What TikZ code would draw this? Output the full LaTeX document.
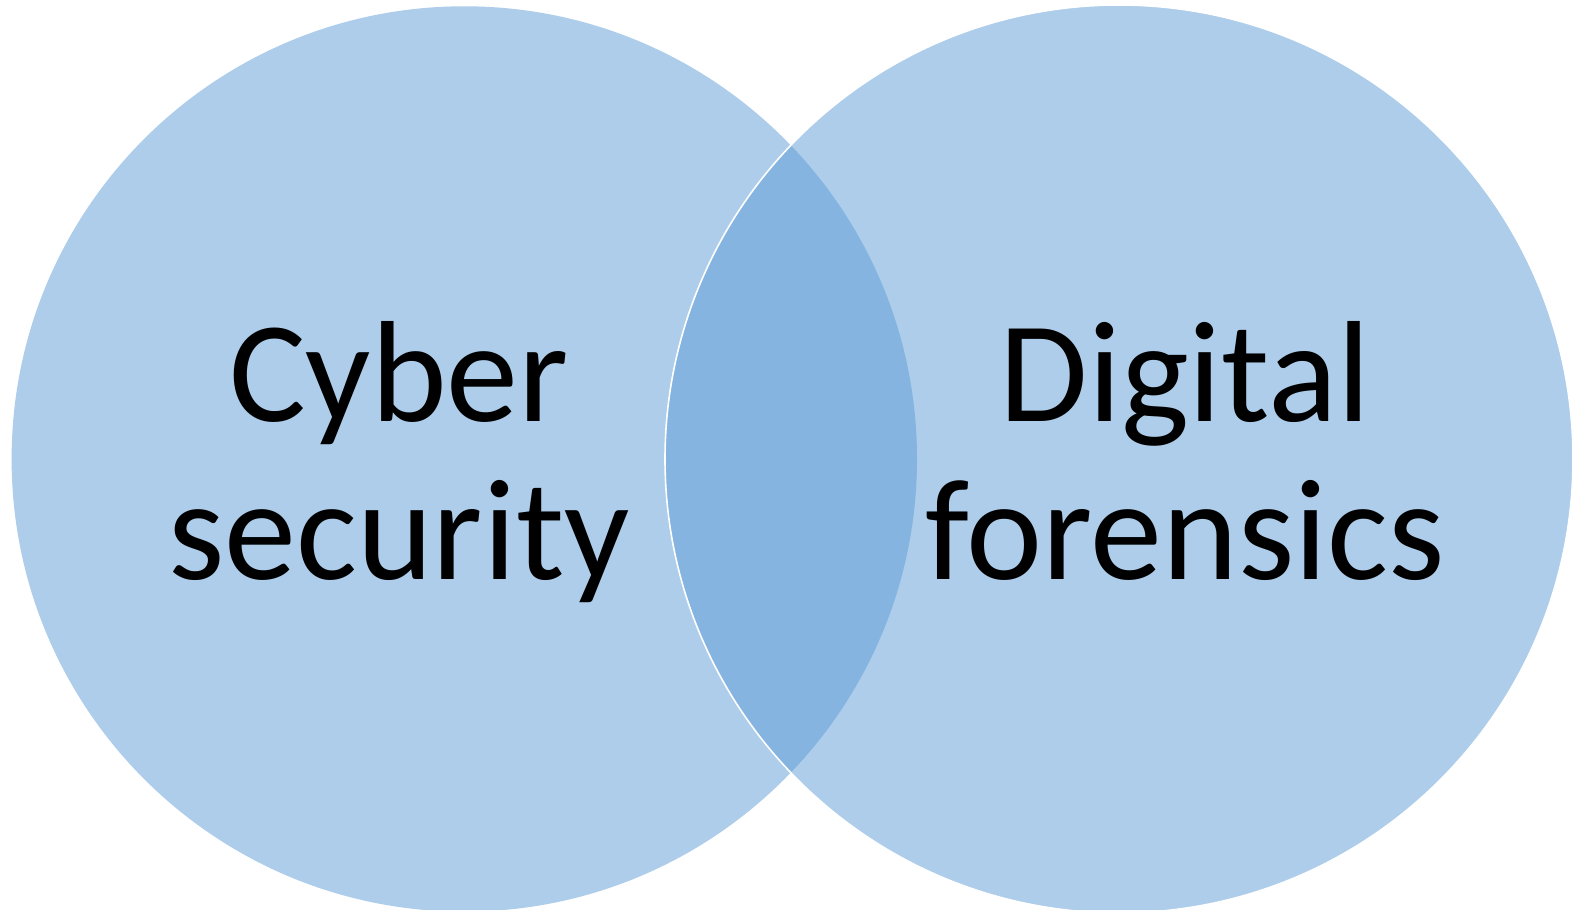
\documentclass[tikz,border=0pt]{standalone}
\usepackage{fontspec}
\setmainfont{Carlito}
\usepackage{xcolor}
\definecolor{vennblue}{HTML}{5B9BD5}

\begin{document}
\begin{tikzpicture}
                        \useasboundingbox (0,0) rectangle (15.760000,9.100000);
                        {\fontsize{41}{45}\selectfont

                        % Drawing circle for cyber security
                        \fill [vennblue, fill opacity=0.5] (4.643000,4.510000) circle (4.527000);%

                        % Drawing circle for digital forensics
                        \draw [white, line width=0.016cm, fill=vennblue, fill opacity=0.5] (11.190000,4.510000) circle (4.540000);%

                        % Label of the left circle
                        \node (cyber) [align=center, text=black] at (3.990000,4.480000) {Cyber\\security};%

                        % Label of the right circle
                        \node (digital) [align=center, text=black] at (11.850000,4.590000) {Digital\\forensics};%
                        }
                    \end{tikzpicture}
\end{document}
